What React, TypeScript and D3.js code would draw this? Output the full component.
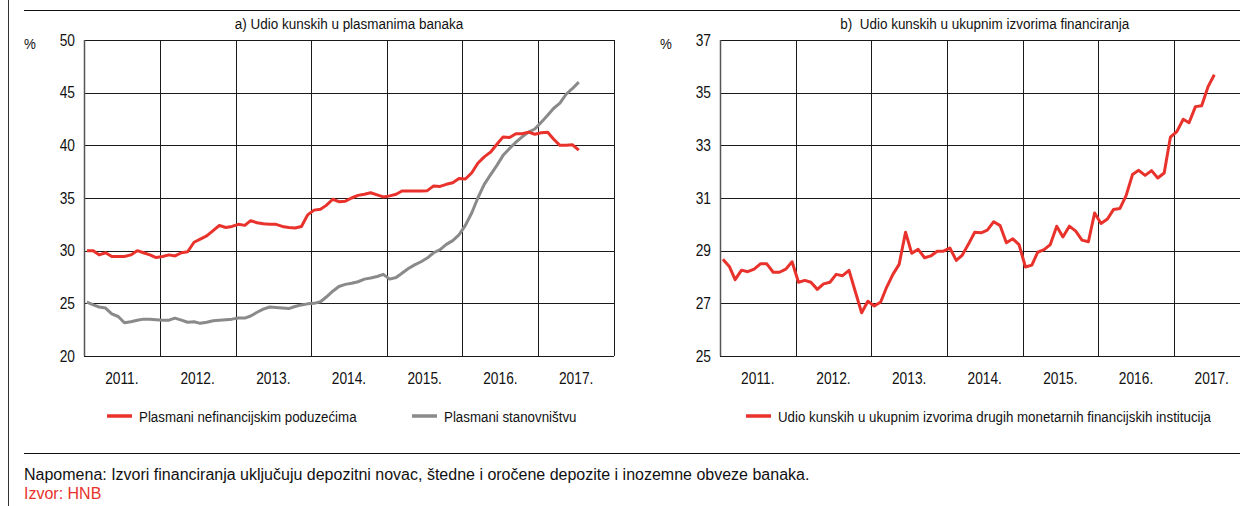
import React from "react";
import * as d3 from "d3";

// monthly values, Jan 2011 - Jul 2017
const corporate = [
  30.0, 30.0, 29.6, 29.8, 29.45, 29.45, 29.45, 29.6, 30.0, 29.8, 29.6, 29.35,
  29.45, 29.6, 29.5, 29.8, 29.9, 30.8, 31.1, 31.4, 31.9, 32.4, 32.2, 32.3,
  32.5, 32.4, 32.85, 32.65, 32.55, 32.5, 32.5, 32.3, 32.2, 32.15, 32.3, 33.4,
  33.85, 33.93, 34.3, 34.88, 34.65, 34.7, 35.0, 35.25, 35.35, 35.5, 35.3, 35.1,
  35.2, 35.35, 35.67, 35.67, 35.67, 35.67, 35.7, 36.15, 36.1, 36.3, 36.45, 36.85,
  36.8, 37.4, 38.3, 38.9, 39.35, 40.1, 40.8, 40.75, 41.1, 41.1, 41.25, 41.05,
  41.2, 41.25, 40.6, 40.0, 40.0, 40.05, 39.55,
];

const households = [
  25.12, 24.85, 24.65, 24.55, 24.0, 23.75, 23.15, 23.25, 23.4, 23.5, 23.5, 23.45,
  23.4, 23.4, 23.6, 23.4, 23.2, 23.25, 23.1, 23.2, 23.35, 23.4, 23.45, 23.5,
  23.6, 23.6, 23.8, 24.15, 24.45, 24.65, 24.6, 24.55, 24.5, 24.7, 24.85, 24.95,
  25.0, 25.15, 25.6, 26.15, 26.6, 26.8, 26.9, 27.05, 27.3, 27.4, 27.55, 27.75,
  27.3, 27.45, 27.85, 28.3, 28.65, 28.95, 29.3, 29.8, 30.1, 30.6, 30.95, 31.5,
  32.4, 33.6, 35.0, 36.3, 37.2, 38.1, 39.05, 39.7, 40.3, 40.8, 41.25, 41.55,
  42.2, 42.85, 43.5, 44.0, 44.85, 45.4, 46.0,
];

const kunaSources = [
  28.67, 28.4, 27.9, 28.26, 28.2, 28.3, 28.5, 28.5, 28.18, 28.18, 28.3, 28.58,
  27.8, 27.87, 27.8, 27.53, 27.74, 27.8, 28.1, 28.05, 28.25, 27.46, 26.64, 27.08,
  26.9, 27.05, 27.6, 28.1, 28.48, 29.7, 28.9, 29.05, 28.73, 28.8, 28.98, 28.98,
  29.1, 28.63, 28.82, 29.25, 29.7, 29.68, 29.78, 30.1, 29.95, 29.3, 29.45, 29.23,
  28.38, 28.45, 28.94, 29.04, 29.23, 29.93, 29.52, 29.93, 29.74, 29.4, 29.34, 30.43,
  30.03, 30.2, 30.56, 30.6, 31.09, 31.89, 32.05, 31.86, 32.04, 31.76, 31.95, 33.31,
  33.52, 33.99, 33.86, 34.47, 34.5, 35.23, 35.68,
];

const yearLabels = ["2011.", "2012.", "2013.", "2014.", "2015.", "2016.", "2017."];
const leftTicks = [20, 25, 30, 35, 40, 45, 50];
const rightTicks = [25, 27, 29, 31, 33, 35, 37];

const RED = "#e8322b";
const GRAY = "#8a8a8a";
const GRID = "#1a1a1a";
const SANS = "'Liberation Sans', Arial, sans-serif";

const months = d3.range(corporate.length).map((i) => d3.timeMonth.offset(new Date(2011, 0, 15), i));

// condensed look: Liberation Sans squeezed horizontally
const T = ({ x, y, anchor = "start", size = 15.5, sx = 0.86, fill = "#111", children }: any) => (
  <text
    transform={`translate(${x},${y}) scale(${sx},1)`}
    textAnchor={anchor}
    fontFamily={SANS}
    fontSize={size}
    fill={fill}
    style={{ whiteSpace: "pre" }}
  >
    {children}
  </text>
);

type Series = { values: number[]; color: string };

const Panel = ({ x0, x1, ticks, series, title }: { x0: number; x1: number; ticks: number[]; series: Series[]; title: string }) => {
  const top = 40;
  const bottom = 356;
  const x = d3.scaleTime().domain([new Date(2011, 0, 1), new Date(2018, 0, 1)]).range([x0, x1]);
  const y = d3.scaleLinear().domain([ticks[0], ticks[ticks.length - 1]]).range([bottom, top]);
  const yearStarts = d3.timeYear.range(new Date(2011, 0, 1), new Date(2019, 0, 1));
  const line = d3
    .line<number>()
    .x((_, i) => x(months[i]))
    .y((d) => y(d));

  return (
    <g>
      <T x={(x0 + x1) / 2} y={29} anchor="middle" sx={0.87}>
        {title}
      </T>
      <T x={x0 - 54} y={49} anchor="middle">%</T>
      {ticks.map((t) => (
        <g key={t}>
          <line x1={x0} x2={x1} y1={Math.round(y(t)) + 0.5} y2={Math.round(y(t)) + 0.5} stroke={GRID} strokeWidth={1} />
          <T x={x0 - 9} y={y(t) + 5.5} anchor="end" size={16}>
            {t}
          </T>
        </g>
      ))}
      {yearStarts.map((d, i) => (
        <line key={i} x1={Math.round(x(d)) + 0.5} x2={Math.round(x(d)) + 0.5} y1={top} y2={bottom} stroke={i === 0 ? "#555" : GRID} strokeWidth={i === 0 ? 1.5 : 1} />
      ))}
      {yearLabels.map((lab, i) => (
        <T key={lab} x={(x(yearStarts[i]) + x(yearStarts[i + 1])) / 2} y={384} anchor="middle" size={16}>
          {lab}
        </T>
      ))}
      {series.map((s, i) => (
        <path key={i} d={line(s.values) || ""} fill="none" stroke={s.color} strokeWidth={3} strokeLinejoin="round" />
      ))}
    </g>
  );
};

const Legend = ({ x, label, color }: { x: number; label: string; color: string }) => (
  <g>
    <line x1={x} x2={x + 25} y1={416} y2={416} stroke={color} strokeWidth={3.5} />
    <T x={x + 32} y={421.5}>
      {label}
    </T>
  </g>
);

const App = () => {
  return (
    <svg width={1240} height={506} style={{ position: "absolute", left: 0, top: 0, background: "#fff" }}>
      <rect width={1240} height={506} fill="#fff" />
      <line x1={8.5} x2={8.5} y1={0} y2={506} stroke="#333" strokeWidth={1} />
      <line x1={24} x2={1240} y1={10.5} y2={10.5} stroke="#111" strokeWidth={1.2} />
      <line x1={24} x2={1240} y1={453.5} y2={453.5} stroke="#111" strokeWidth={1.2} />

      <Panel
        x0={84}
        x1={614}
        ticks={leftTicks}
        title="a) Udio kunskih u plasmanima banaka"
        series={[
          { values: households, color: GRAY },
          { values: corporate, color: RED },
        ]}
      />
      <Panel
        x0={720}
        x1={1249.5}
        ticks={rightTicks}
        title="b)  Udio kunskih u ukupnim izvorima financiranja"
        series={[{ values: kunaSources, color: RED }]}
      />

      <Legend x={107} label="Plasmani nefinancijskim poduzećima" color={RED} />
      <Legend x={412} label="Plasmani stanovništvu" color={GRAY} />
      <Legend x={746} label="Udio kunskih u ukupnim izvorima drugih monetarnih financijskih institucija" color={RED} />

      <text x={24} y={480} fontFamily={SANS} fontSize={16} fill="#111">
        Napomena: Izvori financiranja uključuju depozitni novac, štedne i oročene depozite i inozemne obveze banaka.
      </text>
      <text x={24} y={499} fontFamily={SANS} fontSize={16} fill={RED}>
        Izvor: HNB
      </text>
    </svg>
  );
};

export default App;
